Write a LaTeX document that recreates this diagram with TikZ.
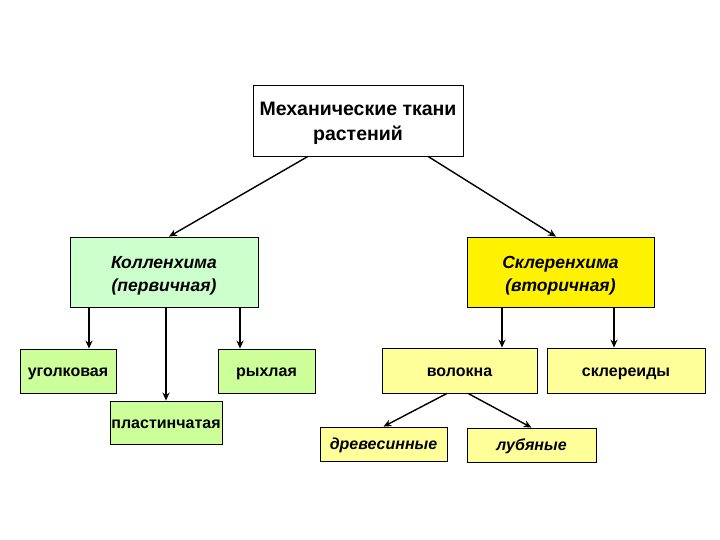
\documentclass[tikz,border=0pt]{standalone}
\usepackage{fontspec}
\setmainfont{Liberation Sans}
\usetikzlibrary{arrows.meta}
\definecolor{palegreen}{RGB}{204,255,204}
\definecolor{limegreen}{RGB}{204,255,153}
\definecolor{paleyellow}{RGB}{255,255,153}
\newcommand\tallstrut{\rule{0pt}{20pt}}
\tikzset{
  box/.style={draw=black,line width=0.8pt,align=center,inner sep=1pt,font=\bfseries\fontsize{16}{19}\selectfont},
  smallbox/.style={box,text height=14pt,text depth=2.4pt},
  bigbox/.style={box,font=\bfseries\itshape\fontsize{17.5}{23}\selectfont},
  arr/.style={-{Stealth[length=8pt,width=7pt]},line width=1.4pt}
}
\begin{document}
\begin{tikzpicture}[x=1pt,y=-1pt]
\useasboundingbox (0,0) rectangle (720,540);

\node[box,fill=white,minimum width=210pt,minimum height=71pt,font=\bfseries\fontsize{19.5}{25}\selectfont]
  (top) at (358,120.5) {\tallstrut Механические ткани\\растений};
\node[bigbox,fill=palegreen,minimum width=188pt,minimum height=70pt] (koll) at (164,272) {\tallstrut Колленхима\\(первичная)};
\node[bigbox,fill=yellow,minimum width=187pt,minimum height=70pt] (skl) at (560.5,272) {\tallstrut Склеренхима\\(вторичная)};

\node[smallbox,fill=limegreen,minimum width=96pt,minimum height=44pt] (ugl) at (68,371) {уголковая};
\node[smallbox,fill=limegreen,minimum width=112pt,minimum height=43pt] (plast) at (166,422.5) {пластинчатая};
\node[smallbox,fill=limegreen,minimum width=97pt,minimum height=44pt] (ryh) at (266.5,371) {рыхлая};

\node[smallbox,fill=paleyellow,minimum width=155pt,minimum height=45pt] (vol) at (459.5,370.5) {волокна};
\node[smallbox,fill=paleyellow,minimum width=158pt,minimum height=45pt] (skld) at (626,370.5) {склереиды};
\node[smallbox,fill=paleyellow,minimum width=127pt,minimum height=34pt,font=\bfseries\itshape\fontsize{16}{19}\selectfont] (drev) at (383.5,444) {древесинные};
\node[smallbox,fill=paleyellow,minimum width=129pt,minimum height=34pt,font=\bfseries\itshape\fontsize{16}{19}\selectfont] (lub) at (531.5,445) {лубяные};

% from the top box
\draw[arr] ([xshift=-50pt]top.south) -- ([xshift=5pt]koll.north);
\draw[arr] ([xshift=70pt]top.south) -- ([xshift=-4.5pt]skl.north);
% collenchyma types
\draw[arr] ([xshift=21pt]ugl.north |- koll.south) -- ([xshift=21pt]ugl.north);
\draw[arr] (plast.north |- koll.south) -- (plast.north);
\draw[arr] ([xshift=-26.5pt]ryh.north |- koll.south) -- ([xshift=-26.5pt]ryh.north);
% sclerenchyma types
\draw[arr] ([xshift=42.5pt]vol.north |- skl.south) -- ([xshift=42.5pt]vol.north);
\draw[arr] ([xshift=-12pt]skld.north |- skl.south) -- ([xshift=-12pt]skld.north);
\draw[arr] ([xshift=-12.5pt]vol.south) -- (drev.north);
\draw[arr] ([xshift=8.5pt]vol.south) -- (lub.north);

\end{tikzpicture}
\end{document}
